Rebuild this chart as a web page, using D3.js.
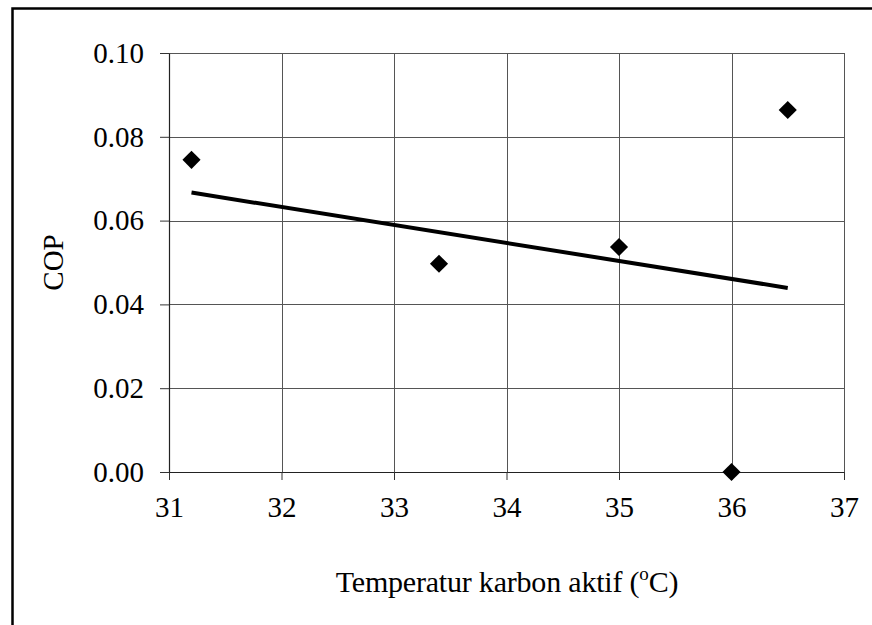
<!DOCTYPE html>
<html>
<head>
<meta charset="utf-8">
<script src="https://cdn.jsdelivr.net/npm/d3@7"></script>
<style>
  html, body { margin: 0; padding: 0; background: #fff; }
  svg { display: block; }
</style>
</head>
<body>
<svg id="chart" width="872" height="625"></svg>
<script>
// Measured COP against activated-carbon temperature
const temperatures = [31.2, 33.4, 35.0, 36.0, 36.5];
const copValues = [0.0745, 0.0497, 0.0537, 0.0, 0.0864];
const xTicks = [31, 32, 33, 34, 35, 36, 37];
const yTicks = [0.00, 0.02, 0.04, 0.06, 0.08, 0.10];

const serif = "'Liberation Serif', 'Times New Roman', serif";
const width = 872, height = 625;
const margin = { top: 53, right: 28, bottom: 153, left: 169 };
const innerW = width - margin.left - margin.right;
const innerH = height - margin.top - margin.bottom;

const svg = d3.select("#chart");

// Page frame (left and top edges)
svg.append("path")
  .attr("d", `M12.5,${height} V8.5 H${width}`)
  .attr("fill", "none")
  .attr("stroke", "#000")
  .attr("stroke-width", 2.5);

const g = svg.append("g").attr("transform", `translate(${margin.left},${margin.top})`);

const x = d3.scaleLinear().domain([31, 37]).range([0, innerW]);
const y = d3.scaleLinear().domain([0, 0.10]).range([innerH, 0]);

// Gridlines
g.append("g")
  .selectAll("line")
  .data(xTicks)
  .join("line")
  .attr("x1", d => Math.round(x(d)) + 0.5)
  .attr("x2", d => Math.round(x(d)) + 0.5)
  .attr("y1", 0)
  .attr("y2", innerH)
  .attr("stroke", "#555")
  .attr("stroke-width", 1);

g.append("g")
  .selectAll("line")
  .data(yTicks)
  .join("line")
  .attr("x1", 0)
  .attr("x2", innerW)
  .attr("y1", d => Math.round(y(d)) + 0.5)
  .attr("y2", d => Math.round(y(d)) + 0.5)
  .attr("stroke", "#555")
  .attr("stroke-width", 1);

// Axes
const xAxis = d3.axisBottom(x).tickValues(xTicks).tickFormat(d3.format("d"))
  .tickSizeInner(8).tickSizeOuter(0).tickPadding(16);
const yAxis = d3.axisLeft(y).tickValues(yTicks).tickFormat(d3.format(".2f"))
  .tickSizeInner(9).tickSizeOuter(0).tickPadding(16);

const gx = g.append("g").attr("transform", `translate(0,${innerH})`).call(xAxis);
const gy = g.append("g").call(yAxis);

[gx, gy].forEach(ax => {
  ax.attr("font-family", null).attr("font-size", null);
  ax.select(".domain").attr("stroke", "#222").attr("stroke-width", 1.2);
  ax.selectAll(".tick line").attr("stroke", "#333");
  ax.selectAll(".tick text")
    .style("font-family", serif)
    .style("font-size", "29px")
    .attr("fill", "#000");
});

// Linear trendline (least squares)
const n = temperatures.length;
const mx = d3.mean(temperatures), my = d3.mean(copValues);
let sxy = 0, sxx = 0;
for (let i = 0; i < n; i++) {
  sxy += (temperatures[i] - mx) * (copValues[i] - my);
  sxx += (temperatures[i] - mx) ** 2;
}
const slope = sxy / sxx;
const intercept = my - slope * mx;
const [xMin, xMax] = d3.extent(temperatures);

g.append("line")
  .attr("x1", x(xMin)).attr("y1", y(slope * xMin + intercept))
  .attr("x2", x(xMax)).attr("y2", y(slope * xMax + intercept))
  .attr("stroke", "#000")
  .attr("stroke-width", 4);

// Data markers (diamonds)
g.append("g")
  .selectAll("path")
  .data(temperatures.map((t, i) => [t, copValues[i]]))
  .join("path")
  .attr("d", d3.symbol().type(d3.symbolSquare).size(165))
  .attr("transform", d => `translate(${x(d[0])},${y(d[1])}) rotate(45)`)
  .attr("fill", "#000");

// Axis titles
g.append("text")
  .attr("transform", `translate(${-106},${innerH / 2}) rotate(-90)`)
  .attr("text-anchor", "middle")
  .style("font-family", serif)
  .style("font-size", "29px")
  .text("COP");

const xt = svg.append("text")
  .attr("x", 507)
  .attr("y", 592)
  .attr("text-anchor", "middle")
  .style("font-family", serif)
  .style("font-size", "30px")
  .style("letter-spacing", "-0.2px");
xt.append("tspan").text("Temperatur karbon aktif (");
xt.append("tspan").style("font-size", "19px").attr("dy", -12).text("o");
xt.append("tspan").attr("dy", 12).text("C)");
</script>
</body>
</html>
